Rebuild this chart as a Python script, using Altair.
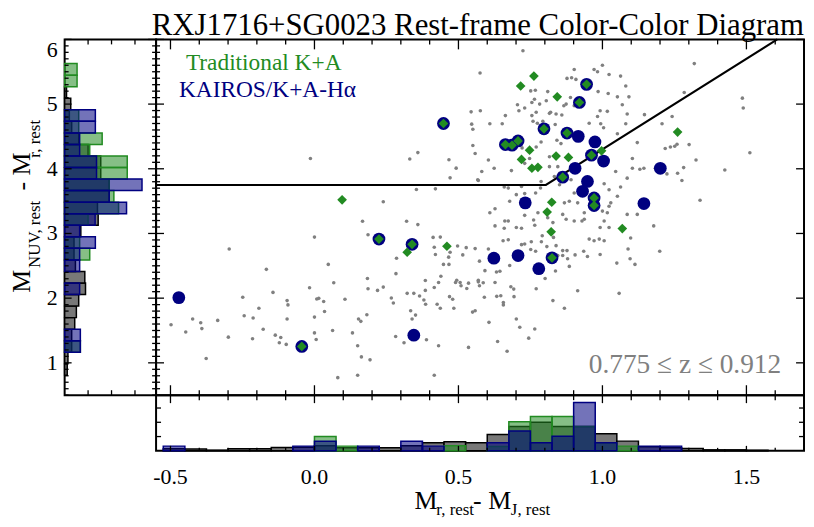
import altair as alt
import pandas as pd
import numpy as np

FONT = "Liberation Serif"
GREEN = "#228B22"
NAVY = "#000080"
DOT = "#808080"

# ---------------- data ----------------
gray_points = [
    (-0.014, 4.16), (0.331, 4.15), (0.359, 4.25), (0.544, 4.88), (0.546, 4.69), (0.550, 4.61),
    (0.550, 4.36), (0.467, 4.14), (0.492, 4.01), (0.471, 3.86), (0.569, 3.82), (0.575, 5.48),
    (0.354, 3.68), (0.420, 3.69), (0.239, 3.49), (0.167, 3.19), (0.320, 3.19),
    (-0.296, 2.761), (-0.167, 2.445), (0.000, 2.944), (0.048, 2.522), (0.067, 2.237), (-0.017, 2.160),
    (-0.144, 2.089), (-0.249, 2.013), (-0.244, 1.728), (-0.213, 1.692), (-0.193, 1.845), (-0.095, 1.962),
    (-0.092, 1.896), (-0.095, 1.677), (-0.178, 1.519), (-0.215, 1.372), (-0.136, 1.428), (-0.117, 1.392),
    (-0.122, 1.310), (-0.098, 1.285), (0.000, 1.707), (0.008, 1.987), (0.015, 1.997), (0.032, 1.947),
    (0.035, 1.794), (0.000, 1.463), (0.006, 1.361), (0.063, 1.499), (0.106, 1.982), (0.132, 1.463),
    (0.153, 1.677), (0.161, 1.641), (0.182, 1.743), (0.184, 2.303), (0.186, 2.145), (0.219, 2.120),
    (0.239, 2.171), (0.267, 2.003), (0.274, 1.926), (0.282, 1.407), (0.311, 1.310), (0.283, 2.379),
    (0.285, 2.618), (0.359, 3.137), (0.322, 2.074), (0.345, 2.074), (0.365, 2.033), (0.380, 1.972),
    (0.385, 2.120), (0.385, 2.272), (0.334, 1.804), (0.351, 1.738), (0.339, 1.677), (0.386, 1.906),
    (0.389, 1.356), (0.416, 2.165), (0.426, 1.906), (0.431, 2.242), (0.439, 2.338), (0.437, 1.845),
    (0.448, 2.522), (0.467, 2.522), (0.480, 1.982), (0.469, 2.023), (0.484, 1.845), (0.490, 2.242),
    (0.494, 2.277), (0.506, 2.242), (0.509, 2.191), (0.529, 2.150), (0.535, 2.232), (0.549, 1.784),
    (0.558, 1.804), (0.569, 2.277), (0.573, 2.191), (0.573, 2.572), (0.515, 2.669), (0.497, 2.807),
    (0.527, 2.781), (0.558, 2.766), (0.416, 2.786), (0.412, 2.939), (0.437, 2.944), (0.420, 2.674),
    (0.466, 2.634), (0.471, 2.710), (0.431, 1.265), (0.416, 0.807), (0.535, 1.239), (0.150, 1.265),
    (0.163, 1.092), (0.193, 1.046), (0.081, 0.771), (0.150, 0.807), (-0.376, 1.066), (-0.299, 1.397),
    (-0.336, 1.656), (-0.391, 1.529), (-0.395, 1.621), (-0.423, 1.677), (-0.447, 1.478), (-0.498, 1.590),
    (0.186, 2.980),
    (1.178, 3.117), (1.098, 2.929), (1.089, 2.761), (1.096, 2.608), (1.113, 2.522), (1.050, 2.542),
    (1.058, 2.074), (1.199, 2.725), (1.006, 3.193), (0.992, 3.092), (1.023, 3.092), (1.006, 2.888),
    (0.971, 2.888), (0.954, 2.913), (0.989, 2.913), (0.992, 2.674), (0.948, 2.644), (0.935, 2.725),
    (0.905, 2.669), (0.879, 2.608), (0.885, 2.491), (0.877, 2.735), (0.862, 2.735), (0.839, 2.812),
    (0.830, 2.939), (0.845, 2.659), (0.862, 2.659), (0.837, 2.420), (0.801, 2.303), (0.828, 1.962),
    (0.868, 1.845), (0.914, 2.114), (0.770, 2.145), (0.765, 1.524), (0.744, 1.382), (0.713, 1.550),
    (0.701, 1.677), (0.669, 1.178), (0.636, 1.331), (0.606, 1.626), (0.656, 1.896), (0.656, 1.931),
    (0.647, 2.038), (0.693, 2.023), (0.692, 2.140), (0.682, 2.176), (0.633, 2.028), (0.590, 2.013),
    (0.569, 2.252), (0.586, 2.237), (0.627, 2.242), (0.632, 2.405), (0.644, 2.415), (0.592, 2.425),
    (0.604, 2.761), (0.655, 2.888), (0.673, 2.903), (0.678, 2.506), (0.751, 2.751), (0.768, 2.725),
    (0.730, 2.837), (0.719, 2.827), (0.753, 2.873), (0.788, 2.873), (0.807, 2.797), (0.791, 2.964),
    (0.828, 3.168), (0.810, 3.244), (0.862, 3.295), (0.929, 3.193), (0.937, 3.219), (0.719, 3.081),
    (0.701, 3.092), (0.659, 3.081), (0.627, 3.117), (0.661, 3.193), (0.761, 3.209), (0.765, 3.127),
    (0.724, 5.824), (0.576, 4.898), (0.609, 4.695), (0.652, 4.695), (0.663, 4.822), (0.705, 4.990),
    (0.710, 4.898), (0.730, 4.939), (0.755, 5.025), (0.764, 5.076), (0.782, 5.000), (0.805, 5.051),
    (0.810, 5.193), (0.767, 5.214), (0.751, 5.204), (0.770, 4.873), (0.755, 4.822), (0.759, 4.735),
    (0.774, 4.705), (0.793, 4.735), (0.820, 4.873), (0.839, 4.847), (0.816, 4.857), (0.836, 4.684),
    (0.859, 4.832), (0.866, 4.974), (0.874, 5.000), (0.889, 5.102), (0.902, 4.974), (0.893, 5.407),
    (0.877, 5.397), (0.902, 5.534), (0.908, 5.382), (0.971, 5.534), (1.000, 5.601), (0.983, 5.499),
    (1.023, 5.458), (1.063, 5.433), (1.081, 5.280), (1.052, 5.112), (1.092, 5.112), (1.020, 5.163),
    (0.985, 5.193), (0.992, 4.898), (0.954, 4.705), (0.983, 4.807), (1.017, 4.888), (0.994, 4.695),
    (1.004, 4.634), (1.081, 4.695), (1.086, 4.847), (1.052, 4.542), (1.069, 4.990), (1.121, 4.405),
    (1.146, 4.837), (1.207, 4.695), (1.242, 4.807), (1.284, 5.178), (1.319, 5.626), (1.486, 5.092),
    (1.489, 4.939), (1.512, 4.247), (1.425, 3.982), (1.339, 3.514), (1.236, 4.338), (1.251, 4.349),
    (1.259, 4.379), (1.218, 4.313), (1.301, 4.374), (1.325, 4.135), (1.282, 4.018), (1.261, 3.931),
    (1.276, 3.819), (1.224, 3.921), (1.184, 4.008), (1.144, 4.008), (1.130, 3.992), (1.104, 4.160),
    (1.104, 4.008), (1.086, 3.855), (1.063, 3.718), (1.023, 3.677), (1.006, 3.768), (1.046, 3.957),
    (0.816, 4.186), (0.816, 4.033), (0.776, 4.008), (0.747, 4.160), (0.730, 4.084), (0.707, 4.440),
    (0.721, 4.323), (0.770, 4.338), (0.787, 4.415), (0.842, 4.440), (0.856, 4.389), (0.845, 4.033),
    (0.851, 3.931), (0.787, 3.804), (0.851, 3.753), (0.785, 3.702), (0.719, 3.728), (0.684, 3.972),
    (0.673, 3.702), (0.659, 3.718), (0.624, 4.008), (0.604, 4.135), (0.581, 3.957), (0.567, 3.830),
    (0.701, 3.600), (0.730, 3.616), (0.768, 3.626), (0.833, 3.880), (0.868, 3.473), (0.885, 3.499),
    (0.902, 3.626), (0.914, 3.473), (0.937, 3.321), (1.000, 3.346), (1.017, 3.321), (1.023, 3.422),
    (1.029, 3.473), (1.052, 3.575), (1.086, 3.295), (1.121, 3.295), (0.678, 3.499), (0.627, 3.382),
    (0.609, 3.321), (0.558, 4.237), (0.673, 3.193), (0.730, 3.280), (0.776, 3.321), (0.874, 3.219),
    (0.902, 3.193), (0.891, 3.830),
]

kairos_points = [
    (0.448, 4.70), (-0.471, 2.008), (0.345, 1.428), (-0.044, 1.254), (0.224, 2.913), (0.339, 2.832),
    (0.945, 5.305), (0.920, 5.025), (0.797, 4.618), (0.877, 4.552), (0.663, 4.374), (0.686, 4.364),
    (0.707, 4.430), (0.962, 4.211), (0.862, 3.870), (0.971, 3.550), (0.971, 3.432), (0.916, 4.501),
    (0.974, 4.415), (1.004, 4.120), (0.905, 4.008), (0.948, 3.804), (0.931, 3.651), (0.732, 3.473),
    (1.144, 3.463), (1.201, 4.008), (0.623, 2.618), (0.707, 2.659), (0.779, 2.456), (0.825, 2.623),
]

ka_points = [
    (0.448, 4.70), (-0.044, 1.254), (0.224, 2.913), (0.339, 2.832), (0.945, 5.305), (0.920, 5.025),
    (0.797, 4.618), (0.877, 4.552), (0.663, 4.374), (0.686, 4.364), (0.707, 4.430), (0.962, 4.211),
    (0.862, 3.870), (0.971, 3.550), (0.971, 3.432), (0.825, 2.623), (0.096, 3.52), (0.322, 2.710),
    (0.460, 2.802), (0.762, 5.433), (0.716, 5.280), (0.843, 5.112), (1.261, 4.567), (0.997, 4.277),
    (0.747, 4.288), (0.719, 4.145), (0.839, 4.196), (0.882, 4.176), (0.755, 4.008), (0.776, 4.023),
    (0.824, 3.483), (0.808, 3.331), (0.822, 3.025), (1.069, 3.076),
]

cut_x = [-0.55, 0.8036, 1.607]
cut_y = [3.75, 3.75, 6.0]

# bottom histogram (M_r - M_J)
xh_left = [-0.525, -0.45, -0.375, -0.3, -0.225, -0.15, -0.075, 0.0, 0.075, 0.15, 0.225, 0.3, 0.375,
           0.45, 0.525, 0.6, 0.675, 0.75, 0.825, 0.9, 0.975, 1.05, 1.125, 1.2, 1.275, 1.35, 1.425, 1.5]
XBW = 0.075
xh_all = [0.014, 0.012, 0.004, 0.014, 0.014, 0.023, 0.025, 0.035, 0.021, 0.021, 0.021, 0.035, 0.056,
          0.063, 0.056, 0.115, 0.17, 0.2, 0.17, 0.17, 0.12, 0.068, 0.028, 0.021, 0.016, 0.007, 0.007, 0.004]
xh_ka = [0, 0, 0, 0, 0, 0, 0, 0.10, 0.033, 0, 0, 0, 0,
         0.035, 0, 0.03, 0.204, 0.24, 0.24, 0.17, 0.056, 0.033, 0, 0, 0, 0, 0, 0]
xh_kairos = [0.033, 0, 0, 0, 0, 0, 0.033, 0.067, 0, 0.033, 0, 0.067, 0.033,
             0, 0, 0.056, 0.139, 0.056, 0.103, 0.338, 0.056, 0, 0.033, 0.033, 0, 0, 0, 0]

# left histogram (M_NUV - M_r)
yh_low = [0.8065, 0.985, 1.1635, 1.342, 1.5205, 1.699, 1.8775, 2.056, 2.2345, 2.413, 2.5915, 2.77,
          2.9485, 3.127, 3.3055, 3.484, 3.6625, 3.841, 4.0195, 4.198, 4.3765, 4.555, 4.7335, 4.912,
          5.0905, 5.269, 5.4475]
YBW = 0.1785
yh_all = [0.011, 0.014, 0.03, 0.03, 0.043, 0.05, 0.06, 0.089, 0.086, 0.046, 0.04, 0.04,
          0.069, 0.143, 0.14, 0.19, 0.19, 0.154, 0.154, 0.1, 0.06, 0.03, 0.02, 0.026,
          0.008, 0, 0]
yh_ka = [0, 0, 0.067, 0, 0, 0, 0, 0, 0, 0, 0.107, 0.064,
         0, 0.1, 0.23, 0.21, 0.19, 0.267, 0.267, 0.107, 0.16, 0.06, 0.06, 0,
         0, 0.053, 0.053]
yh_kairos = [0, 0, 0.067, 0.067, 0, 0, 0, 0.064, 0, 0.064, 0.064, 0.131,
             0.064, 0.13, 0.264, 0.19, 0.33, 0.136, 0.136, 0.064, 0.064, 0.131, 0.131, 0,
             0, 0, 0]

x_major = [-0.5, 0.0, 0.5, 1.0, 1.5]
x_labels = ["-0.5", "0.0", "0.5", "1.0", "1.5"]
x_minor = [round(-0.5 + 0.1 * i, 1) for i in range(23) if i % 5 != 0]
y_major = [1, 2, 3, 4, 5, 6]
y_labels = ["1", "2", "3", "4", "5"]
y_minor = [round(0.5 + 0.1 * i, 1) for i in range(56) if (i + 5) % 10 != 0]
h_ticks = [0.1, 0.2, 0.3]

# ---------------- layout ----------------
WL, WM, H, HB = 92, 652, 358, 56
XS = alt.Scale(domain=[-0.55, 1.70], nice=False, zero=False)
YS = alt.Scale(domain=[0.5, 6.0], nice=False, zero=False)
HS = alt.Scale(domain=[0, 0.39], nice=False, zero=False)
one = pd.DataFrame({"a": [0]})


def xrule(vals, L, edge, height, scale=XS):
    a, b = (height, height - L) if edge == "bottom" else (0, L)
    return alt.Chart(pd.DataFrame({"v": vals})).mark_rule(color="black", strokeWidth=1.3).encode(
        x=alt.X("v:Q", scale=scale, axis=None), y=alt.value(a), y2=alt.value(b))


def yrule(vals, L, edge, width, scale):
    a, b = (0, L) if edge == "left" else (width, width - L)
    return alt.Chart(pd.DataFrame({"v": vals})).mark_rule(color="black", strokeWidth=1.3).encode(
        y=alt.Y("v:Q", scale=scale, axis=None), x=alt.value(a), x2=alt.value(b))


def txt(s, x, y, size, color="black", align="left", angle=0):
    return alt.Chart(one).mark_text(text=s, font=FONT, fontSize=size, color=color, align=align,
                                    baseline="alphabetic", angle=angle).encode(
        x=alt.value(x), y=alt.value(y))


# ---------- main scatter ----------
gdf = pd.DataFrame(gray_points, columns=["x", "y"])
kdf = pd.DataFrame(kairos_points, columns=["x", "y"])
adf = pd.DataFrame(ka_points, columns=["x", "y"])
cdf = pd.DataFrame({"x": cut_x, "y": cut_y, "o": [0, 1, 2]})

enc = dict(x=alt.X("x:Q", scale=XS, axis=None), y=alt.Y("y:Q", scale=YS, axis=None))
main_layers = [
    alt.Chart(gdf).mark_circle(size=13, color=DOT, opacity=1).encode(**enc),
    alt.Chart(cdf).mark_line(color="black", strokeWidth=2).encode(order="o:Q", **enc),
    alt.Chart(kdf).mark_circle(size=165, color=NAVY, opacity=1).encode(**enc),
    alt.Chart(adf).mark_point(shape="diamond", filled=True, size=95, color=GREEN, opacity=1).encode(**enc),
    xrule(x_major, 10, "bottom", H), xrule(x_minor, 5, "bottom", H),
    xrule(x_major, 10, "top", H), xrule(x_minor, 5, "top", H),
    yrule(y_major, 8, "left", WM, YS), yrule(y_minor, 4, "left", WM, YS),
    yrule(y_major, 8, "right", WM, YS),
    txt("Traditional K+A", 30, 31, 23.5, GREEN),
    txt("KAIROS/K+A-H\u03b1", 23, 57.5, 23.5, NAVY),
    txt("0.775 \u2264 z \u2264 0.912", 629, 336, 27.5, DOT, align="right"),
    txt("RXJ1716+SG0023 Rest-frame Color-Color Diagram", WM, -4, 31, align="right"),
]
main = alt.layer(*main_layers).properties(width=WM, height=H)


# ---------- left histogram ----------
def ybars(vals, fill, stroke, fop):
    d = pd.DataFrame({"lo": yh_low, "v": vals})
    d = d[d.v > 0].copy()
    d["hi"] = d.lo + YBW
    d["z"] = 0.0
    return alt.Chart(d).mark_rect(fill=fill, fillOpacity=fop, stroke=stroke, strokeWidth=1.5).encode(
        y=alt.Y("lo:Q", scale=YS, axis=None), y2="hi:Q",
        x=alt.X("z:Q", scale=HS, axis=None), x2="v:Q")


ylab = pd.DataFrame({"v": y_major[:-1], "t": y_labels})
left_layers = [
    ybars(yh_all, "#787878", "black", 1),
    ybars(yh_ka, GREEN, GREEN, 0.55),
    ybars(yh_kairos, NAVY, NAVY, 0.55),
    yrule(y_major, 7, "left", WL, YS), yrule(y_minor, 4, "left", WL, YS),
    yrule(y_major, 8, "right", WL, YS), yrule(y_minor, 4, "right", WL, YS),
    xrule(h_ticks, 5, "top", H, HS), xrule(h_ticks, 5, "bottom", H, HS),
    alt.Chart(ylab).mark_text(font=FONT, fontSize=22, align="right", baseline="middle").encode(
        y=alt.Y("v:Q", scale=YS, axis=None), x=alt.value(-7), text="t:N"),
    alt.Chart(one).mark_text(text="6", font=FONT, fontSize=22, align="right", baseline="top").encode(
        x=alt.value(-7), y=alt.value(1)),
    txt("M", -35, 255, 26, angle=270),
    txt("NUV, rest", -25, 230, 17, angle=270),
    txt("- M", -35, 152, 26, angle=270),
    txt("r, rest", -25, 119, 17, angle=270),
]
left = alt.layer(*left_layers).properties(width=WL, height=H)


# ---------- bottom histogram ----------
def xbars(vals, fill, stroke, fop):
    d = pd.DataFrame({"lo": xh_left, "v": vals})
    d = d[d.v > 0].copy()
    d["hi"] = d.lo + XBW
    d["z"] = 0.0
    return alt.Chart(d).mark_rect(fill=fill, fillOpacity=fop, stroke=stroke, strokeWidth=1.5).encode(
        x=alt.X("lo:Q", scale=XS, axis=None), x2="hi:Q",
        y=alt.Y("z:Q", scale=HS, axis=None), y2="v:Q")


xlab = pd.DataFrame({"v": x_major, "t": x_labels})
bottom_layers = [
    xbars(xh_all, "#787878", "black", 1),
    xbars(xh_ka, GREEN, GREEN, 0.55),
    xbars(xh_kairos, NAVY, NAVY, 0.55),
    xrule(x_major, 8, "top", HB), xrule(x_minor, 5, "top", HB),
    xrule(x_major, 5, "bottom", HB), xrule(x_minor, 3, "bottom", HB),
    yrule(h_ticks, 5, "left", WM, HS), yrule(h_ticks, 5, "right", WM, HS),
    alt.Chart(xlab).mark_text(font=FONT, fontSize=22, align="center", baseline="alphabetic").encode(
        x=alt.X("v:Q", scale=XS, axis=None), y=alt.value(89), text="t:N"),
    txt("M", 260, 115, 26),
    txt("r, rest", 282, 121, 17),
    txt("- M", 319, 115, 26),
    txt("J, rest", 357, 121, 17),
]
bottom = alt.layer(*bottom_layers).properties(width=WM, height=HB)

spacer = alt.Chart(one).mark_point(opacity=0).encode(
    x=alt.X("a:Q", axis=None), y=alt.Y("a:Q", axis=None)
).properties(width=WL, height=HB, view=alt.ViewBackground(strokeOpacity=0))

chart = alt.concat(
    left, main, spacer, bottom, columns=2, spacing=0, bounds="flush"
).properties(
    padding={"left": 0, "top": 0, "right": 0, "bottom": 0}
).configure_view(stroke="black", strokeWidth=2)

chart.save("out.html", embed_options={"renderer": "svg", "actions": False})
